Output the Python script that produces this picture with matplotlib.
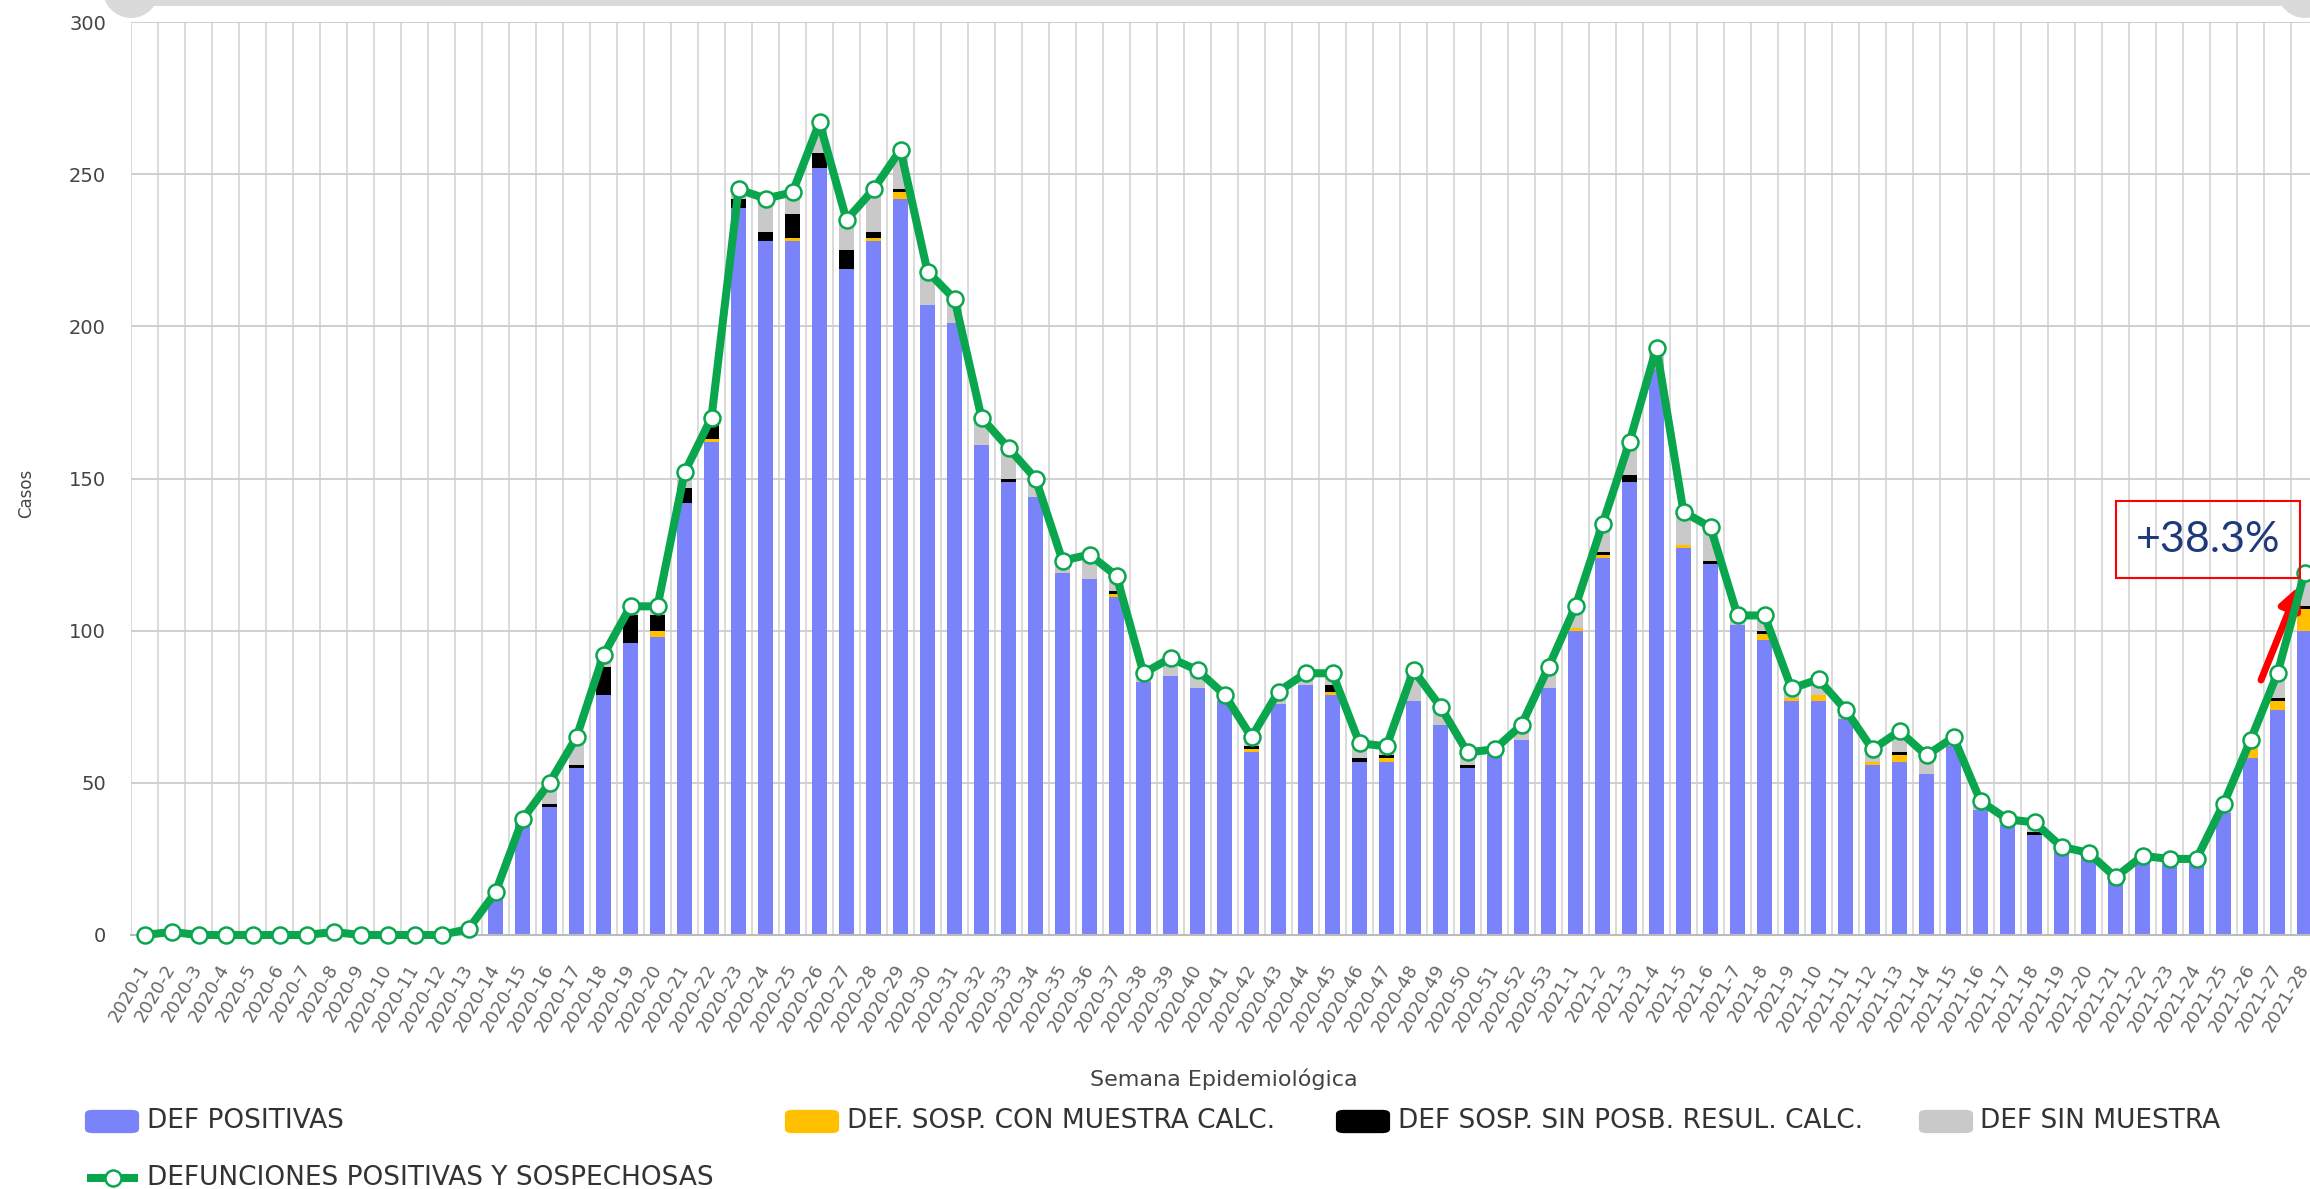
import matplotlib
matplotlib.use("Agg")
import matplotlib.pyplot as plt
import numpy as np
from matplotlib.patches import FancyBboxPatch, Rectangle, Circle
from matplotlib.lines import Line2D
from matplotlib.transforms import IdentityTransform

# ---------------- data ----------------
weeks = [f"2020-{i}" for i in range(1, 54)] + [f"2021-{i}" for i in range(1, 29)]

def_positivas = [0, 1, 0, 0, 0, 0, 0, 1, 0, 0, 0, 0, 2, 12, 37, 42, 55, 79, 96, 98,
                 142, 162, 239, 228, 228, 252, 219, 228, 242, 207, 201, 161, 149, 144, 119, 117, 111, 83, 85, 81,
                 77, 60, 76, 82, 79, 57, 57, 77, 69, 55, 59, 64, 81, 100, 124, 149, 186, 127, 122, 102,
                 97, 77, 77, 71, 56, 57, 53, 62, 41, 36, 33, 28, 26, 18, 24, 23, 23, 40, 58, 74, 100]
sosp_con_muestra = [0, 0, 0, 0, 0, 0, 0, 0, 0, 0, 0, 0, 0, 0, 0, 0, 0, 0, 0, 2,
                    0, 1, 0, 0, 1, 0, 0, 1, 2, 0, 0, 0, 0, 0, 0, 0, 1, 0, 0, 0,
                    0, 1, 0, 0, 1, 0, 1, 0, 0, 0, 0, 0, 0, 1, 1, 0, 1, 1, 0, 0,
                    2, 1, 2, 0, 1, 2, 0, 0, 0, 0, 0, 0, 0, 0, 0, 0, 0, 0, 3, 3, 7]
sosp_sin_posb = [0, 0, 0, 0, 0, 0, 0, 0, 0, 0, 0, 0, 0, 0, 0, 1, 1, 9, 9, 5,
                 5, 5, 3, 3, 8, 5, 6, 2, 1, 0, 0, 0, 1, 0, 0, 0, 1, 0, 0, 0,
                 0, 1, 0, 0, 2, 1, 1, 0, 0, 1, 0, 0, 0, 0, 1, 2, 0, 0, 1, 0,
                 1, 0, 0, 0, 0, 1, 0, 0, 0, 0, 1, 0, 0, 0, 0, 0, 0, 0, 0, 1, 1]
sin_muestra = [0, 0, 0, 0, 0, 0, 0, 0, 0, 0, 0, 0, 0, 2, 1, 7, 9, 4, 3, 3,
               5, 2, 3, 11, 7, 10, 10, 14, 13, 11, 8, 9, 10, 6, 4, 8, 5, 3, 6, 6,
               2, 3, 4, 4, 4, 5, 3, 10, 6, 4, 2, 5, 7, 7, 9, 11, 6, 11, 11, 3,
               5, 3, 5, 3, 4, 7, 6, 3, 3, 2, 3, 1, 1, 1, 2, 2, 2, 3, 3, 8, 11]

annotation_text = "+38.3%"

# ---------------- style ----------------
W, H, DPI = 2310, 1189, 100
C_BLUE = "#7B83FA"
C_YEL = "#FFC000"
C_BLK = "#000000"
C_GRAY = "#C9C9C9"
C_GREEN = "#0AA64E"

plt.rcParams['font.family'] = ['DejaVu Sans']

fig = plt.figure(figsize=(W / DPI, H / DPI), dpi=DPI)
ax_left, ax_right, ax_top, ax_bot = 131, 2318, 22, 935
ax = fig.add_axes([ax_left / W, 1 - ax_bot / H, (ax_right - ax_left) / W, (ax_bot - ax_top) / H])

x = np.arange(len(weeks))
pos = np.array(def_positivas, float)
yel = np.array(sosp_con_muestra, float)
blk = np.array(sosp_sin_posb, float)
gry = np.array(sin_muestra, float)
total = pos + yel + blk + gry

bw = 0.56
ax.bar(x, pos, bw, color=C_BLUE, zorder=2)
ax.bar(x, yel, bw, bottom=pos, color=C_YEL, zorder=2)
ax.bar(x, blk, bw, bottom=pos + yel, color=C_BLK, zorder=2)
ax.bar(x, gry, bw, bottom=pos + yel + blk, color=C_GRAY, zorder=2)
ax.plot(x, total, color=C_GREEN, lw=5.8, marker='o', ms=11.5, mfc='white', mec=C_GREEN, mew=1.8,
        zorder=4, solid_joinstyle='round', clip_on=False)

ax.set_xlim(-0.5, len(weeks) - 0.5)
ax.set_ylim(0, 300)
ax.set_yticks(np.arange(0, 301, 50))
ax.set_xticks(x)
ax.set_xticklabels(weeks, rotation=60, ha='right', va='center', rotation_mode='anchor',
                   fontsize=13, color='#666666')
ax.set_xticks(np.arange(-0.5, len(weeks), 1), minor=True)
ax.tick_params(axis='x', which='both', length=0, pad=22)
ax.tick_params(axis='y', length=0, pad=18, labelsize=14, labelcolor='#444444')
ax.grid(axis='y', which='major', color='#CCCCCC', lw=1.3, zorder=0)
ax.grid(axis='x', which='minor', color='#D4D4D4', lw=1.2, zorder=0)
ax.grid(axis='x', which='major', visible=False)
for s in ['top', 'right', 'left']:
    ax.spines[s].set_visible(False)
ax.spines['bottom'].set_color('#BBBBBB')
ax.spines['bottom'].set_linewidth(1.5)
ax.set_axisbelow(True)

def fx(px):
    return px / W

def fy(py):
    return 1 - py / H

fig.text(fx(26), fy(493), "Casos", rotation=90, ha='center', va='center', fontsize=12, color='#444444')
fig.text(fx(1224), fy(1079), "Semana Epidemiológica", ha='center', va='center', fontsize=16, color='#444444')

# ---------------- legend ----------------
legend_items = [("DEF POSITIVAS", C_BLUE, 89, 147),
                ("DEF. SOSP. CON MUESTRA CALC.", C_YEL, 789, 847),
                ("DEF SOSP. SIN POSB. RESUL. CALC.", C_BLK, 1340, 1398),
                ("DEF SIN MUESTRA", C_GRAY, 1923, 1980)]
row1 = 1121
for label, col, sx, tx in legend_items:
    p = FancyBboxPatch((fx(sx + 4), fy(row1 + 8)), fx(38), (23 - 8) / H,
                       boxstyle="round,pad=0.0035", transform=fig.transFigure,
                       facecolor=col, edgecolor='none')
    fig.add_artist(p)
    fig.text(fx(tx), fy(row1), label, ha='left', va='center', fontsize=19, color='#333333')
row2 = 1178
fig.add_artist(Line2D([fx(91), fx(134)], [fy(row2), fy(row2)], color=C_GREEN, lw=5.8,
                      transform=fig.transFigure))
fig.add_artist(Line2D([fx(112.5)], [fy(row2)], color=C_GREEN, marker='o', ms=11.5, mfc='white',
                      mec=C_GREEN, mew=1.8, transform=fig.transFigure))
fig.text(fx(147), fy(row2), "DEFUNCIONES POSITIVAS Y SOSPECHOSAS", ha='left', va='center',
         fontsize=19, color='#333333')

# ---------------- top slider ----------------
fig.add_artist(Rectangle((131, H - 6), 2170, 6, transform=IdentityTransform(),
                         facecolor='#DADADA', edgecolor='none'))
fig.add_artist(Circle((131, H + 10), 28, transform=IdentityTransform(),
                      facecolor='#DADADA', edgecolor='none'))
fig.add_artist(Circle((2305, H + 10), 28, transform=IdentityTransform(),
                      facecolor='#DADADA', edgecolor='none'))

# ---------------- annotation ----------------
fig.add_artist(Rectangle((fx(2116), fy(578)), fx(2300 - 2116), (578 - 501) / H,
                         transform=fig.transFigure, facecolor='none', edgecolor='#FF0000', lw=1.5))
fig.text(fx(2208), fy(540), annotation_text, ha='center', va='center', fontsize=31,
         color='#1F3A7A', family=['Lato', 'DejaVu Sans'])
ax.annotate("", xy=(2299, H - 586), xycoords='figure pixels',
            xytext=(2261, H - 680), textcoords='figure pixels',
            arrowprops=dict(arrowstyle='-|>', color='#FF0000', lw=5, mutation_scale=32,
                            shrinkA=0, shrinkB=0))

fig.savefig("out.png", dpi=DPI)
